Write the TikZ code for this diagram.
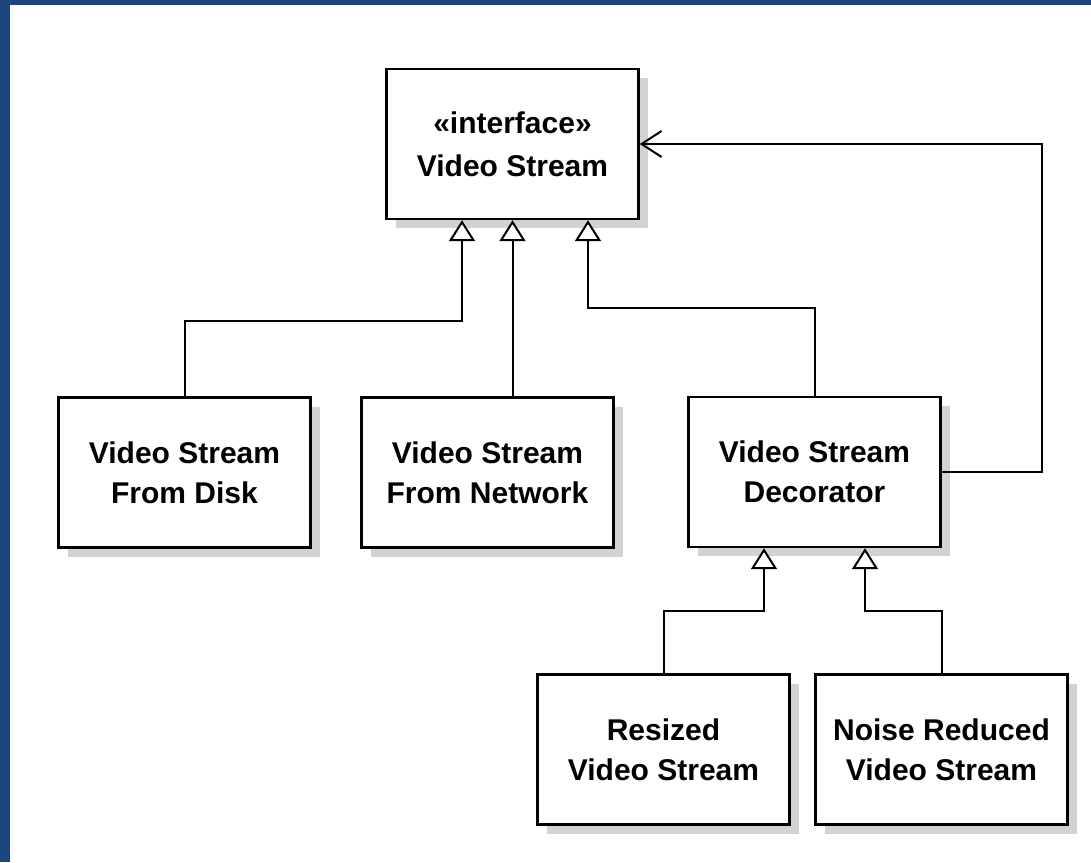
\documentclass[tikz,border=0pt]{standalone}
\usepackage{fontspec}
\setmainfont{Liberation Sans}
\usetikzlibrary{arrows.meta,shadows}
\definecolor{frameblue}{RGB}{29,69,128}
\definecolor{shadegray}{RGB}{210,210,210}
\begin{document}
\begin{tikzpicture}[x=1pt,y=-1pt,
  cls/.style={draw=black, line width=2.4pt, fill=white,
    minimum width=252pt, minimum height=150pt, inner sep=0pt, align=center,
    font=\fontsize{30}{40}\selectfont\bfseries,
    drop shadow={shadow xshift=9pt, shadow yshift=-9pt, fill=shadegray, opacity=1}},
  inh/.style={draw=black, line width=2pt, -{Triangle[length=21pt,width=26pt,fill=white]}},
  dep/.style={draw=black, line width=2pt, -{Straight Barb[length=20pt,width=26pt]}}]

% page and frame
\fill[white] (0,0) rectangle (1091,862);
\fill[frameblue] (0,0) rectangle (10,862);
\fill[frameblue] (0,0) rectangle (1091,5);
\useasboundingbox (0,0) rectangle (1091,862);

% classes
\node[cls] (iface) at (512.5,144) {«interface»\\[3pt]Video Stream};
\node[cls] (disk)  at (184.5,472.5) {Video Stream\\From Disk};
\node[cls] (net)   at (487.5,472.5) {Video Stream\\From Network};
\node[cls] (dec)   at (814.5,472) {Video Stream\\Decorator};
\node[cls] (res)   at (663.5,749.5) {Resized\\Video Stream};
\node[cls] (noise) at (941.5,749.5) {Noise Reduced\\Video Stream};

% generalisations
\draw[inh] (disk.north) |- (462,321) -- (iface.south -| 462,0);
\draw[inh] (net.north -| iface.south) -- (iface.south);
\draw[inh] (dec.north) |- (588,308) -- (iface.south -| 588,0);
\draw[inh] (res.north) |- (764,611) -- (dec.south -| 764,0);
\draw[inh] (noise.north) |- (865,611) -- (dec.south -| 865,0);

% decorator wraps a stream
\draw[dep] (dec.east) -| (1042,144) -- (iface.east);
\end{tikzpicture}
\end{document}
